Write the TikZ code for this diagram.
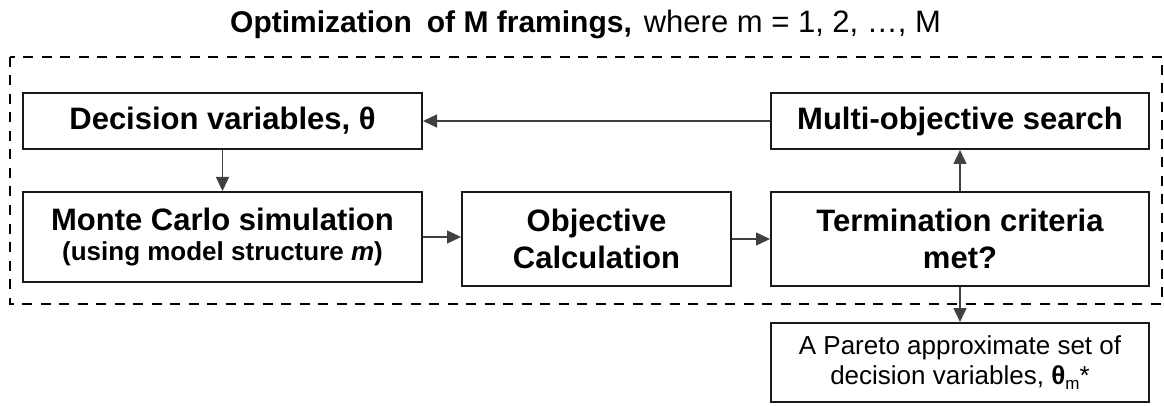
\documentclass[tikz,border=0pt]{standalone}
\usepackage{fontspec}
\setmainfont{Liberation Sans}
\usetikzlibrary{arrows.meta}
\begin{document}
\begin{tikzpicture}[x=1pt, y=-1pt,
  box/.style={draw=black!90, line width=2pt, inner sep=0pt, align=center,
    font=\bfseries\fontsize{31}{37}\selectfont},
  frame/.style={draw=black, line width=2.4pt, dash pattern=on 10pt off 8.5pt},
  arr/.style={draw=black!75, line width=1.4pt, -{Triangle[length=14pt,width=13pt]}}]
  \useasboundingbox (0,0) rectangle (1164,406);

  % heading
  \node[anchor=base west, inner sep=0pt, font=\fontsize{30}{34}\selectfont] (title) at (230,33)
    {{\bfseries Optimization\hspace{15pt}of M framings,}\hspace{12pt}{\fontsize{31}{34}\selectfont where m = 1, 2, …, M}};

  % dashed frame around the optimisation loop
  \draw[frame] (10,57) rectangle (1162,304);

  % loop blocks
  \node[box, minimum width=399pt, minimum height=56pt] (dec) at (222.5,121)
    {Decision variables, θ};
  \node[box, minimum width=378pt, minimum height=56pt] (mos) at (960,121)
    {Multi-objective search};
  \node[box, minimum width=399pt, minimum height=90pt,
        font=\bfseries\fontsize{31}{30}\selectfont] (mc) at (222.5,237)
    {Monte Carlo simulation\\{\fontsize{26}{30}\selectfont (using model structure \textit{m})}};
  \node[box, minimum width=269pt, minimum height=94pt] (obj) at (596.5,239)
    {Objective\\Calculation};
  \node[box, minimum width=378pt, minimum height=94pt] (term) at (960,239)
    {Termination criteria\\met?};

  % result block
  \node[box, minimum width=378pt, minimum height=79pt,
        font=\fontsize{26}{30}\selectfont] (par) at (960,362.5)
    {A Pareto approximate set of\\decision variables, {\bfseries θ}\raisebox{-0.22em}{\fontsize{17}{17}\selectfont m}*};

  % flow
  \draw[arr] (mos.west) -- (dec.east);
  \draw[arr] (dec.south) -- (mc.north);
  \draw[arr] (mc.east) -- (mc.east -| obj.west);
  \draw[arr] (obj.east) -- (obj.east -| term.west);
  \draw[arr] (term.north) -- (mos.south);
  \draw[arr] (term.south) -- (par.north);
\end{tikzpicture}
\end{document}
